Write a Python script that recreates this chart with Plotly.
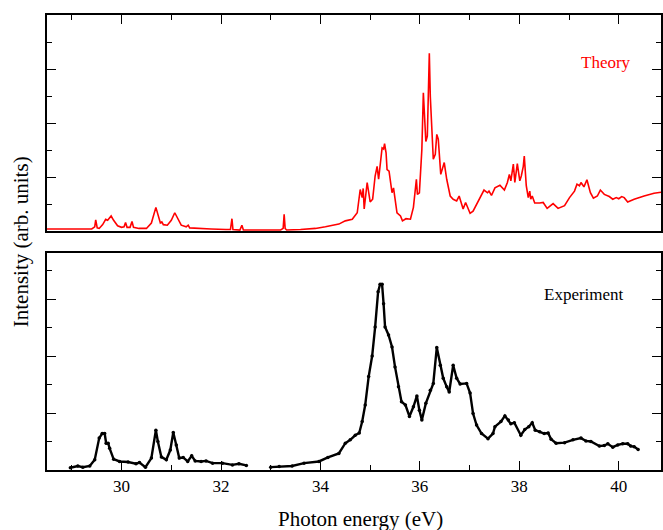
import plotly.graph_objects as go
from plotly.subplots import make_subplots

# Theory spectrum (red)
theory_x = [28.50, 29.00, 29.40, 29.46, 29.48, 29.51, 29.55, 29.62, 29.68, 29.72, 29.75, 29.79,
            29.84, 29.92, 30.00, 30.05, 30.08, 30.11, 30.17, 30.21, 30.24, 30.35, 30.50, 30.60,
            30.69, 30.74, 30.78, 30.81, 30.84, 30.92, 31.00, 31.07, 31.13, 31.20, 31.30, 31.34,
            31.37, 31.50, 31.80, 32.10, 32.19, 32.22, 32.24, 32.38, 32.42, 32.45, 32.70, 33.20,
            33.25, 33.27, 33.29, 33.32, 33.60, 33.90, 34.10, 34.17, 34.37, 34.50, 34.64, 34.74,
            34.80, 34.84, 34.86, 34.88, 34.94, 35.00, 35.05, 35.10, 35.14, 35.17, 35.24, 35.27,
            35.29, 35.32, 35.34, 35.38, 35.44, 35.47, 35.54, 35.61, 35.65, 35.72, 35.81, 35.87,
            35.93, 35.95, 35.99, 36.04, 36.07, 36.12, 36.15, 36.19, 36.21, 36.27, 36.31, 36.34,
            36.37, 36.42, 36.49, 36.54, 36.61, 36.67, 36.74, 36.79, 36.84, 36.87, 36.92, 37.01,
            37.07, 37.21, 37.29, 37.36, 37.39, 37.44, 37.51, 37.61, 37.70, 37.76, 37.80, 37.83,
            37.88, 37.91, 37.96, 38.01, 38.04, 38.08, 38.10, 38.14, 38.18, 38.21, 38.23, 38.26,
            38.31, 38.41, 38.48, 38.56, 38.68, 38.78, 38.91, 39.01, 39.11, 39.16, 39.21, 39.24,
            39.30, 39.36, 39.43, 39.49, 39.57, 39.63, 39.71, 39.81, 39.88, 39.95, 40.00, 40.06,
            40.11, 40.18, 40.31, 40.51, 40.71, 40.85]
theory_y = [0.04, 0.04, 0.04, 0.08, 0.21, 0.06, 0.05, 0.12, 0.22, 0.20, 0.24, 0.28,
            0.20, 0.10, 0.07, 0.08, 0.16, 0.07, 0.07, 0.18, 0.07, 0.05, 0.05, 0.15,
            0.44, 0.26, 0.15, 0.17, 0.12, 0.11, 0.20, 0.34, 0.22, 0.11, 0.08, 0.11,
            0.06, 0.05, 0.04, 0.03, 0.03, 0.23, 0.03, 0.02, 0.11, 0.02, 0.02, 0.02,
            0.05, 0.31, 0.05, 0.02, 0.03, 0.05, 0.08, 0.09, 0.13, 0.19, 0.22, 0.34,
            0.77, 0.62, 0.79, 0.41, 0.90, 0.54, 0.59, 1.02, 1.20, 0.96, 1.54, 1.52,
            1.62, 1.45, 1.14, 1.11, 0.71, 0.80, 0.34, 0.28, 0.19, 0.23, 0.22, 0.44,
            0.96, 0.68, 0.71, 1.51, 2.56, 1.66, 1.76, 3.29, 2.49, 1.33, 1.42, 1.79,
            1.70, 1.05, 1.27, 0.96, 0.65, 0.59, 0.56, 0.65, 0.47, 0.41, 0.53, 0.33,
            0.37, 0.62, 0.76, 0.71, 0.74, 0.66, 0.80, 0.85, 0.76, 0.90, 1.05, 0.93,
            1.24, 0.90, 1.25, 0.93, 1.02, 1.20, 1.39, 0.84, 0.62, 0.74, 0.59, 0.65,
            0.52, 0.52, 0.53, 0.42, 0.51, 0.42, 0.47, 0.62, 0.74, 0.87, 0.84, 0.90,
            0.82, 0.95, 0.71, 0.61, 0.65, 0.76, 0.68, 0.64, 0.59, 0.62, 0.60, 0.64,
            0.62, 0.54, 0.59, 0.65, 0.70, 0.72]

# Experiment spectrum (black), two measured segments
exp1_x = [28.97, 29.12, 29.22, 29.36, 29.46, 29.55, 29.61, 29.66, 29.69, 29.73, 29.76, 29.84,
          29.96, 30.13, 30.29, 30.36, 30.48, 30.60, 30.69, 30.73, 30.80, 30.90, 30.98, 31.04,
          31.10, 31.16, 31.24, 31.33, 31.41, 31.48, 31.60, 31.70, 31.83, 32.03, 32.23, 32.36, 32.51]
exp1_y = [0.04, 0.07, 0.05, 0.07, 0.18, 0.56, 0.64, 0.64, 0.47, 0.47, 0.38, 0.19,
          0.15, 0.14, 0.11, 0.13, 0.05, 0.21, 0.70, 0.50, 0.23, 0.18, 0.35, 0.66,
          0.44, 0.21, 0.22, 0.15, 0.25, 0.16, 0.15, 0.16, 0.12, 0.12, 0.09, 0.11, 0.08]
exp2_x = [33.00, 33.17, 33.43, 33.67, 33.97, 34.15, 34.37, 34.50, 34.60, 34.70, 34.78, 34.84,
          34.90, 34.97, 35.04, 35.10, 35.16, 35.20, 35.24, 35.27, 35.30, 35.37, 35.44, 35.50,
          35.57, 35.63, 35.71, 35.79, 35.87, 35.94, 35.99, 36.04, 36.12, 36.21, 36.27, 36.34,
          36.41, 36.47, 36.54, 36.59, 36.67, 36.74, 36.81, 36.94, 37.01, 37.07, 37.14, 37.24,
          37.37, 37.47, 37.51, 37.63, 37.71, 37.78, 37.83, 37.90, 38.03, 38.11, 38.19, 38.26,
          38.32, 38.41, 38.50, 38.58, 38.64, 38.74, 38.91, 39.08, 39.24, 39.34, 39.44, 39.61,
          39.71, 39.78, 39.88, 39.98, 40.08, 40.18, 40.24, 40.31, 40.39]
exp2_y = [0.05, 0.06, 0.07, 0.12, 0.15, 0.22, 0.29, 0.47, 0.53, 0.61, 0.65, 0.85,
          1.14, 1.64, 2.00, 2.51, 3.13, 3.26, 3.26, 2.92, 2.51, 2.37, 2.16, 1.81,
          1.46, 1.20, 1.14, 0.94, 1.11, 1.30, 1.05, 0.88, 1.17, 1.40, 1.52, 2.15,
          1.84, 1.61, 1.46, 1.37, 1.84, 1.61, 1.51, 1.52, 1.35, 0.99, 0.79, 0.64,
          0.55, 0.64, 0.76, 0.85, 0.95, 0.88, 0.81, 0.83, 0.61, 0.71, 0.76, 0.83,
          0.70, 0.67, 0.64, 0.65, 0.54, 0.47, 0.48, 0.53, 0.56, 0.51, 0.50, 0.42,
          0.43, 0.46, 0.40, 0.44, 0.46, 0.46, 0.42, 0.41, 0.36]

x_tick_vals = [30, 32, 34, 36, 38, 40]
x_tick_text = ["30", "32", "34", "36", "38", "40"]

FONT = "Liberation Serif"

fig = make_subplots(rows=2, cols=1, shared_xaxes=False, vertical_spacing=0.05)

fig.add_trace(go.Scatter(x=theory_x, y=theory_y, mode="lines",
                         line=dict(color="#ff0000", width=1.6), showlegend=False), row=1, col=1)
for ex, ey in [(exp1_x, exp1_y), (exp2_x, exp2_y)]:
    fig.add_trace(go.Scatter(x=ex, y=ey, mode="lines+markers",
                             line=dict(color="black", width=2.4),
                             marker=dict(color="black", size=3.5),
                             showlegend=False), row=2, col=1)

xcommon = dict(range=[28.5, 40.85], showline=True, linecolor="black", linewidth=1.5,
               ticks="inside", ticklen=9, tickwidth=1, tickcolor="black",
               tickvals=x_tick_vals, ticktext=x_tick_text,
               minor=dict(dtick=1, tick0=29, ticks="inside", ticklen=5, tickcolor="black"),
               showgrid=False, zeroline=False, mirror=True)
ycommon = dict(showline=True, linecolor="black", linewidth=1.5,
               ticks="inside", ticklen=9, tickwidth=1, tickcolor="black",
               dtick=1, tick0=0, showticklabels=False,
               minor=dict(dtick=0.5, ticks="inside", ticklen=5, tickcolor="black"),
               showgrid=False, zeroline=False, mirror="ticks")

fig.update_layout(
    width=663, height=530,
    margin=dict(l=47, r=0, t=15, b=60),
    plot_bgcolor="white", paper_bgcolor="white",
    font=dict(family=FONT, color="black", size=17),
    xaxis=dict(xcommon, side="top", showticklabels=False, anchor="y", domain=[0, 1]),
    yaxis=dict(ycommon, range=[0, 4.0], domain=[0.525, 1.0], anchor="x"),
    xaxis2=dict(xcommon, side="bottom", showticklabels=True, anchor="y2", domain=[0, 1],
                tickfont=dict(family=FONT, size=17, color="black")),
    yaxis2=dict(ycommon, range=[0, 3.81], domain=[0.0, 0.477], anchor="x2"),
    annotations=[
        dict(text="Theory", x=0.9107, y=0.8967, xref="paper", yref="paper",
             showarrow=False, font=dict(family=FONT, size=17, color="#ff0000"),
             xanchor="center", yanchor="middle"),
        dict(text="Experiment", x=0.875, y=0.3868, xref="paper", yref="paper",
             showarrow=False, font=dict(family=FONT, size=17, color="black"),
             xanchor="center", yanchor="middle"),
        dict(text="Photon energy (eV)", x=0.5106, y=-0.1077, xref="paper", yref="paper",
             showarrow=False, font=dict(family=FONT, size=21, color="black"),
             xanchor="center", yanchor="middle"),
        dict(text="Intensity (arb. units)", x=-0.042, y=0.501, xref="paper", yref="paper",
             showarrow=False, textangle=-90, font=dict(family=FONT, size=21, color="black"),
             xanchor="center", yanchor="middle"),
    ],
)

fig.write_html("out.html")
